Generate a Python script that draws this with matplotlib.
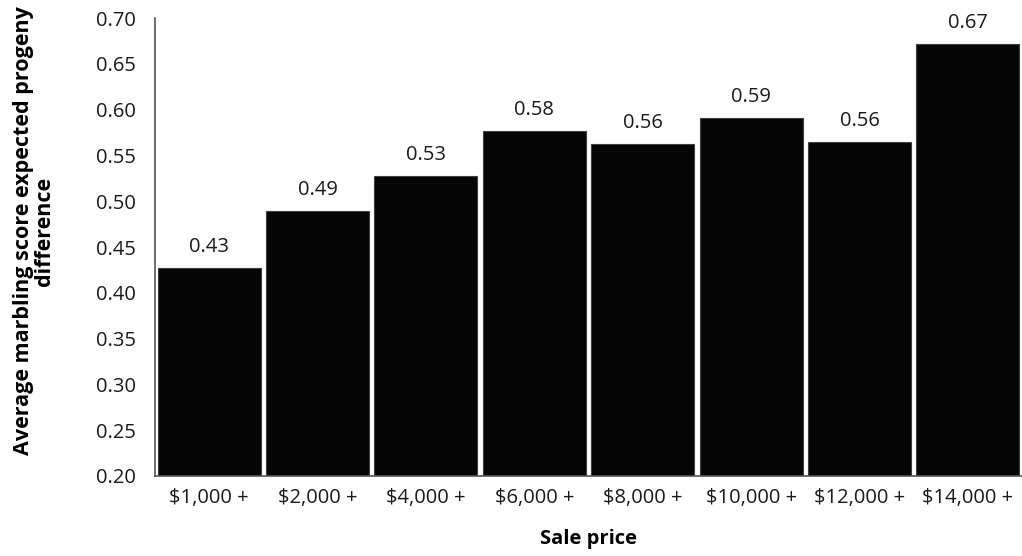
import matplotlib.pyplot as plt

# 数据
categories = ['$1,000 +', '$2,000 +', '$4,000 +', '$6,000 +',
              '$8,000 +', '$10,000 +', '$12,000 +', '$14,000 +']
marbling_epd = [0.427, 0.489, 0.527, 0.577, 0.562, 0.591, 0.565, 0.672]
y_ticks = [0.20, 0.25, 0.30, 0.35, 0.40, 0.45, 0.50, 0.55, 0.60, 0.65, 0.70]

plt.rcParams['font.family'] = ['Open Sans', 'DejaVu Sans']

fig = plt.figure(figsize=(10.22, 5.56), dpi=100)
ax = fig.add_axes([0.1517, 0.1439, 0.8483, 0.8237])

x = range(len(categories))
bars = ax.bar(x, marbling_epd, width=0.95, bottom=0, color='#050505',
              edgecolor='#404040', linewidth=0.8)

for rect, v in zip(bars, marbling_epd):
    ax.text(rect.get_x() + rect.get_width() / 2, v + 0.012, f'{v:.2f}',
            ha='center', va='bottom', fontsize=14.5, color='#1a1a1a')

ax.set_xlim(-0.5, len(categories) - 0.5)
ax.set_ylim(0.20, 0.70)
ax.set_yticks(y_ticks)
ax.set_yticklabels([f'{t:.2f}' for t in y_ticks])
ax.set_xticks(list(x))
ax.set_xticklabels(categories)
ax.tick_params(axis='both', length=0, labelsize=14.5, colors='#1a1a1a')
ax.tick_params(axis='y', pad=14)
ax.tick_params(axis='x', pad=9)

for side in ('top', 'right'):
    ax.spines[side].set_visible(False)
for side in ('left', 'bottom'):
    ax.spines[side].set_color('#555555')
    ax.spines[side].set_linewidth(1.2)

ax.set_xlabel('Sale price', fontsize=14.5, fontweight='bold', labelpad=15)
ax.set_ylabel('Average marbling score expected progeny\ndifference',
              fontsize=15.5, fontweight='bold', linespacing=1.0)
ax.yaxis.set_label_coords(-0.115, 0.535)

fig.savefig('out.png', dpi=100)
